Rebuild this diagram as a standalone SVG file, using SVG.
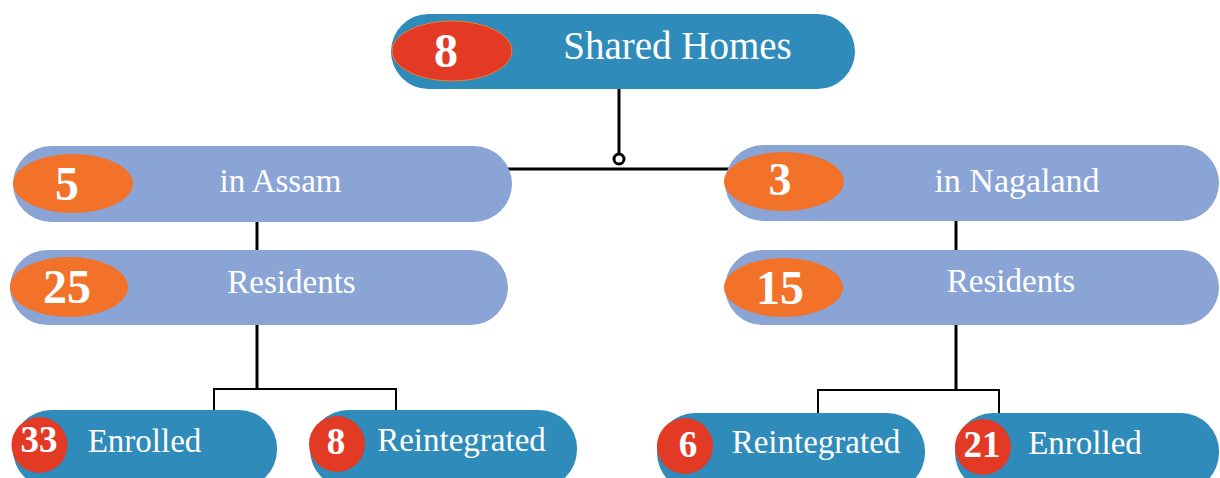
<svg xmlns="http://www.w3.org/2000/svg" width="1220" height="478" viewBox="0 0 1220 478">
<style>
.dark{fill:#2E8BBA}
.light{fill:#8AA4D5}
.red{fill:#E23A25}
.orange{fill:#F2722A}
.num{font-family:"Liberation Serif","Times New Roman",serif;font-weight:bold;fill:#FFFFFF;text-anchor:middle}
.lbl{font-family:"Liberation Serif","Times New Roman",serif;fill:#FFFFFF;text-anchor:middle}
.ln{stroke:#000;stroke-width:3;fill:none}
.thin{stroke:#000;stroke-width:2;fill:none}
</style>
<rect width="1220" height="478" fill="#FFFFFF"/>
<g id="connectors">
<line class="ln" x1="619" y1="89" x2="619" y2="153"/>
<circle cx="619" cy="159" r="5" fill="#FFFFFF" stroke="#000" stroke-width="3"/>
<line class="ln" x1="505" y1="169" x2="735" y2="169"/>
<line class="ln" x1="257" y1="220" x2="257" y2="252"/>
<line class="ln" x1="956" y1="219" x2="956" y2="252"/>
<line class="ln" x1="257" y1="323" x2="257" y2="389"/>
<polyline class="thin" points="214,411 214,389 396,389 396,411"/>
<line class="ln" x1="956" y1="323" x2="956" y2="390"/>
<polyline class="thin" points="818,414 818,390 999,390 999,414"/>
</g>
<g id="node-shared-homes">
<rect class="dark" x="391" y="14" width="464" height="75" rx="37.5"/>
<ellipse class="red" cx="452" cy="51" rx="60" ry="30" stroke="#F07A30" stroke-width="1"/>
<text class="num" x="446" y="67" font-size="48">8</text>
<text class="lbl" x="677.5" y="59" font-size="39">Shared Homes</text>
</g>
<g id="node-assam">
<rect class="light" x="13" y="146" width="499" height="76" rx="38"/>
<ellipse class="orange" cx="73" cy="183.5" rx="60" ry="29.5"/>
<text class="num" x="67" y="200" font-size="48">5</text>
<text class="lbl" x="280.5" y="192" font-size="33">in Assam</text>
</g>
<g id="node-nagaland">
<rect class="light" x="725" y="145" width="494" height="76" rx="38"/>
<ellipse class="orange" cx="784" cy="181.5" rx="60" ry="29.5"/>
<text class="num" x="780" y="195" font-size="46">3</text>
<text class="lbl" x="1017" y="192" font-size="34">in Nagaland</text>
</g>
<g id="node-residents-assam">
<rect class="light" x="10" y="250" width="498" height="75" rx="37.5"/>
<ellipse class="orange" cx="69" cy="287" rx="59" ry="30"/>
<text class="num" x="67" y="303" font-size="48">25</text>
<text class="lbl" x="291.5" y="293" font-size="33">Residents</text>
</g>
<g id="node-residents-nagaland">
<rect class="light" x="725" y="250" width="494" height="75" rx="37.5"/>
<ellipse class="orange" cx="783.5" cy="287.5" rx="59.5" ry="29.5"/>
<text class="num" x="780" y="304" font-size="48">15</text>
<text class="lbl" x="1011" y="292" font-size="33">Residents</text>
</g>
<g id="node-enrolled-assam">
<rect class="dark" x="13" y="410" width="264" height="78" rx="38"/>
<circle class="red" cx="39.5" cy="445" r="28"/>
<text class="num" x="39" y="452" font-size="37">33</text>
<text class="lbl" x="144.5" y="452" font-size="33">Enrolled</text>
</g>
<g id="node-reintegrated-assam">
<rect class="dark" x="310" y="410" width="267" height="78" rx="38"/>
<circle class="red" cx="337" cy="444" r="28"/>
<text class="num" x="336" y="454" font-size="37">8</text>
<text class="lbl" x="461.5" y="451" font-size="33">Reintegrated</text>
</g>
<g id="node-reintegrated-nagaland">
<rect class="dark" x="657" y="413" width="268" height="78" rx="38"/>
<circle class="red" cx="685" cy="446" r="28"/>
<text class="num" x="688" y="457" font-size="37">6</text>
<text class="lbl" x="816" y="453" font-size="33">Reintegrated</text>
</g>
<g id="node-enrolled-nagaland">
<rect class="dark" x="955" y="413" width="264" height="78" rx="38"/>
<circle class="red" cx="983" cy="447" r="28"/>
<text class="num" x="982" y="457" font-size="37">21</text>
<text class="lbl" x="1085" y="454" font-size="33">Enrolled</text>
</g>
</svg>
